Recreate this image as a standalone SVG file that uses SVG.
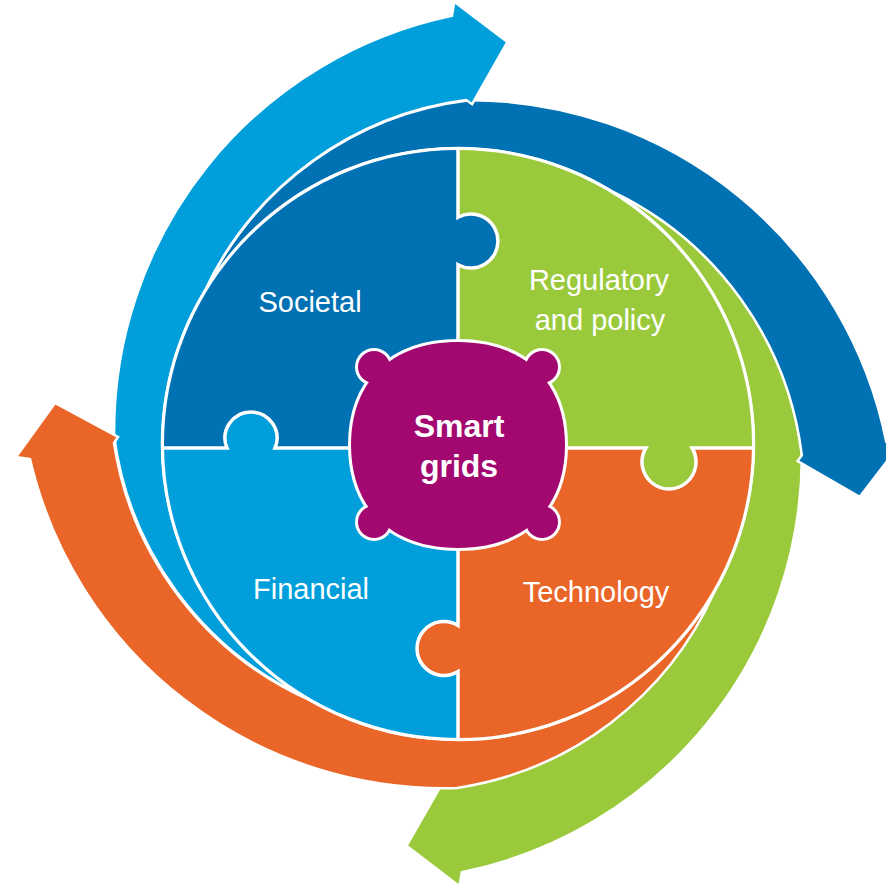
<svg xmlns="http://www.w3.org/2000/svg" width="886" height="889" viewBox="0 0 886 889">
<defs>
  <clipPath id="disc"><circle cx="458" cy="444" r="296"/></clipPath>
  <path id="arrow" d="M714.3,592 A337,337 0 0 1 457,788 A425,425 0 0 1 30,459 L16,457 L55,403 L118,437 L114,443 A337,337 0 0 0 310,700.3 A296,296 0 0 0 714.3,592 Z"/>
  <path id="body" d="M458,342 C524.3,342 565,381.1 565,445 C565,508.9 524.3,548 458,548 C391.7,548 351,508.9 351,445 C351,381.1 391.7,342 458,342 Z"/>
</defs>
<style>
  .arrow{stroke:#fff;stroke-width:2.5;stroke-linejoin:miter}
  .lbl{font-family:"Liberation Sans",Arial,sans-serif;font-size:29px;fill:#fff;text-anchor:middle}
  .ctr{font-family:"Liberation Sans",Arial,sans-serif;font-size:32px;font-weight:bold;fill:#fff;text-anchor:middle}
  .line{fill:none;stroke:#fff;stroke-width:3.5}
  .dblue{fill:#0071B3}
  .lblue{fill:#009FDB}
  .green{fill:#9ACA3C}
  .orange{fill:#EA6628}
  .purple{fill:#A20870}
</style>
<rect width="886" height="889" fill="#fff"/>
<g id="connectors">
  <use href="#arrow" id="arrow-green" class="arrow green" transform="rotate(271.5 458 444)"/>
  <use href="#arrow" id="arrow-darkblue" class="arrow dblue" transform="rotate(181.7 458 444)"/>
  <use href="#arrow" id="arrow-lightblue" class="arrow lblue" transform="rotate(91.2 458 444)"/>
  <use href="#arrow" id="arrow-orange" class="arrow orange"/>
</g>
<g id="pieces" clip-path="url(#disc)">
  <g id="societal">
    <path class="dblue" d="M458,100 V217.3 A27,27 0 1 1 458,264.7 V448 H275 A26,26 0 1 0 227,448 H100 V100 Z"/>
  </g>
  <g id="regulatory">
    <path class="green" d="M458,100 H820 V448 H692.1 A27,27 0 1 1 645.9,448 H458 V264.7 A27,27 0 1 0 458,217.3 Z"/>
  </g>
  <g id="financial">
    <path class="lblue" d="M100,448 H227 A26,26 0 1 1 275,448 H458 V625.4 A27,27 0 1 0 458,671.6 V800 H100 Z"/>
  </g>
  <g id="technology">
    <path class="orange" d="M458,448 H645.9 A27,27 0 1 0 692.1,448 H820 V800 H458 V671.6 A27,27 0 1 1 458,625.4 Z"/>
  </g>
  <path class="line" d="M458,140 V217.3 A27,27 0 1 1 458,264.7 V625.4 A27,27 0 1 0 458,671.6 V750"/>
  <path class="line" d="M150,448 H227 A26,26 0 1 1 275,448 H645.9 A27,27 0 1 0 692.1,448 H765"/>
</g>
<circle cx="458" cy="444" r="295.5" fill="none" stroke="#fff" stroke-width="3"/>
<g id="labels">
  <text class="lbl" x="310" y="312">Societal</text>
  <text class="lbl" x="599" y="290">Regulatory</text>
  <text class="lbl" x="600" y="330">and policy</text>
  <text class="lbl" x="311" y="599">Financial</text>
  <text class="lbl" x="596" y="602">Technology</text>
</g>
<g id="smart-grids">
  <g fill="#fff">
    <use href="#body" stroke="#fff" stroke-width="6"/>
    <circle cx="374" cy="367" r="19"/>
    <circle cx="542" cy="367" r="19"/>
    <circle cx="374" cy="522" r="19"/>
    <circle cx="542" cy="522" r="19"/>
  </g>
  <g class="purple">
    <use href="#body"/>
    <circle cx="374" cy="367" r="16"/>
    <circle cx="542" cy="367" r="16"/>
    <circle cx="374" cy="522" r="16"/>
    <circle cx="542" cy="522" r="16"/>
  </g>
  <text class="ctr" x="459" y="437">Smart</text>
  <text class="ctr" x="459" y="477">grids</text>
</g>
</svg>
